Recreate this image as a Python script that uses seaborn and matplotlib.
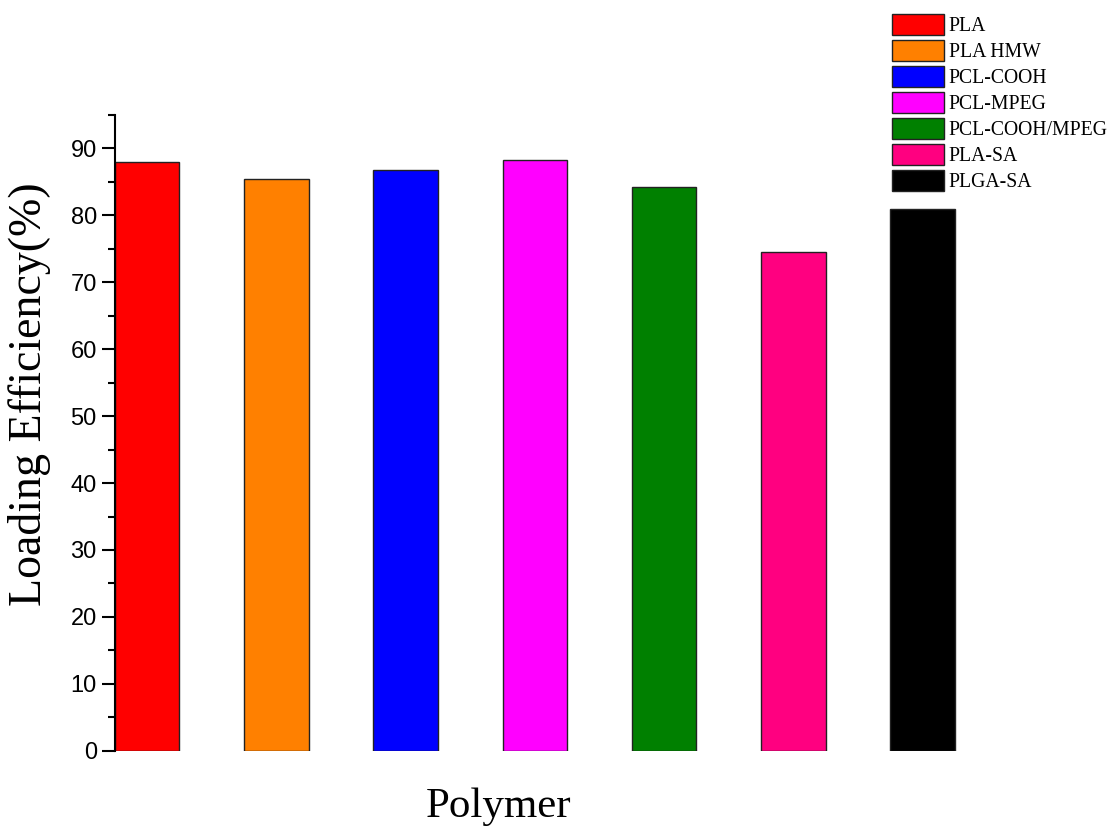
import pandas as pd
import matplotlib
matplotlib.use("Agg")
import matplotlib.pyplot as plt
import seaborn as sns
from matplotlib.ticker import MultipleLocator

# Data
polymers = ['PLA', 'PLA HMW', 'PCL-COOH', 'PCL-MPEG', 'PCL-COOH/MPEG', 'PLA-SA', 'PLGA-SA']
efficiency = [87.9, 85.4, 86.7, 88.2, 84.2, 74.5, 80.9]
colors = ['#FF0000', '#FF8000', '#0000FF', '#FF00FF', '#008000', '#FF0080', '#000000']

df = pd.DataFrame({'Polymer': polymers, 'Efficiency': efficiency})

sns.set_style("ticks")
plt.rcParams['font.family'] = ['Liberation Sans', 'DejaVu Sans']

fig = plt.figure(figsize=(11.15, 8.26), dpi=100)
ax = fig.add_axes([0.103, 0.091, 0.794, 0.770])

sns.barplot(
    data=df,
    x='Polymer',
    y='Efficiency',
    hue='Polymer',
    palette=dict(zip(polymers, colors)),
    width=0.5,
    edgecolor='#222222',
    linewidth=1,
    saturation=1,
    legend=False,
    ax=ax,
)

ax.set_xlim(-0.25, 6.6)
ax.set_ylim(0, 95)
ax.yaxis.set_major_locator(MultipleLocator(10))
ax.yaxis.set_minor_locator(MultipleLocator(5))
ax.tick_params(axis='y', which='major', length=9.5, width=1.5, labelsize=17,
               direction='out', colors='black', labelcolor='black')
ax.tick_params(axis='y', which='minor', length=5, width=1.5, direction='out', colors='black')
ax.set_xticks([])

for side in ['top', 'right', 'bottom']:
    ax.spines[side].set_visible(False)
ax.spines['left'].set_linewidth(1.5)
ax.spines['left'].set_color('black')

ax.set_ylabel("Loading Efficiency(%)", fontsize=33, family='Liberation Serif', color='black')
ax.yaxis.set_label_coords(-0.072, 0.56)
ax.set_xlabel("Polymer", fontsize=31, family='Liberation Serif', color='black')
ax.xaxis.set_label_coords(0.434, -0.058)

# Legend in the upper right corner of the figure
handles = [plt.Rectangle((0, 0), 1, 1, facecolor=c, edgecolor='#222222', linewidth=1) for c in colors]
fig.legend(
    handles, polymers,
    loc='upper left',
    bbox_to_anchor=(0.788, 1.0),
    frameon=False,
    prop={'family': 'Liberation Serif', 'size': 14.2},
    handlelength=2.6,
    handleheight=1.25,
    labelspacing=0.2,
    handletextpad=0.25,
    borderpad=0.2,
    labelcolor='black',
)

fig.savefig('out.png', dpi=100)
